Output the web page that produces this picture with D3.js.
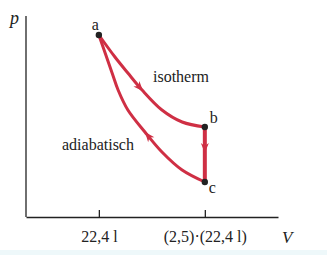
<!DOCTYPE html>
<html>
<head>
<meta charset="utf-8">
<script src="https://cdn.jsdelivr.net/npm/d3@7"></script>
<style>
  body { margin: 0; background: #fff; }
  svg text { font-family: "Liberation Serif", "DejaVu Serif", serif; fill: #222; }
</style>
</head>
<body>
<svg id="chart" width="327" height="255"></svg>
<script>
// volume ticks (litre) and their labels
const tickValues = [22.4, 56];
const tickLabels = ["22,4 l", "(2,5)·(22,4 l)"];

// states a, b, c  (V in l, p in arbitrary units)
const stateNames = ["a", "b", "c"];
const stateV = [22.4, 56, 56];
const stateP = [9.1, 4.5, 1.75];

// isotherm a -> b
const isoV = [22.4, 27.5, 31.6, 36.1, 42.4, 48.8, 56];
const isoP = [9.1, 8.0, 7.2, 6.35, 5.35, 4.75, 4.5];

// adiabat c -> a (listed from a to c)
const adiV = [22.4, 26.6, 28.5, 31.6, 37.0, 42.4, 48.8, 56];
const adiP = [9.1, 7.2, 6.35, 5.35, 4.25, 3.25, 2.35, 1.75];

const red = "#cf2f44";
const svg = d3.select("#chart");

const x = d3.scaleLinear().domain([-0.7, 79.2]).range([26, 278]);
const y = d3.scaleLinear().domain([0, 10]).range([217, 17]);

// light strip at the bottom
svg.append("rect").attr("x", 0).attr("y", 250).attr("width", 327).attr("height", 5).attr("fill", "#eef8fa");

// axes
const xAxis = d3.axisBottom(x)
    .tickValues(tickValues)
    .tickFormat((d, i) => tickLabels[i])
    .tickSizeInner(-7)
    .tickSizeOuter(0)
    .tickPadding(14);

const gx = svg.append("g").attr("transform", `translate(0,${y(0)})`).call(xAxis);
gx.select(".domain").attr("stroke", "#222").attr("stroke-width", 1.3);
gx.selectAll(".tick line").attr("stroke", "#222").attr("stroke-width", 1.3).attr("y2", -7).attr("y1", 1);
gx.selectAll(".tick text").attr("font-size", 16).attr("font-family", "Liberation Serif").attr("fill", "#222");

svg.append("line")
    .attr("x1", x.range()[0]).attr("x2", x.range()[0])
    .attr("y1", y(0)).attr("y2", 16)
    .attr("stroke", "#222").attr("stroke-width", 1.3);

svg.append("text").attr("x", 10).attr("y", 24).attr("font-size", 18).attr("font-style", "italic").text("p");
svg.append("text").attr("x", 282).attr("y", 243).attr("font-size", 17).attr("font-style", "italic").text("V");

// curves
const line = d3.line().x(d => x(d[0])).y(d => y(d[1])).curve(d3.curveCatmullRom.alpha(0.5));

const isoPath = svg.append("path")
    .datum(d3.zip(isoV, isoP))
    .attr("d", line)
    .attr("fill", "none").attr("stroke", red).attr("stroke-width", 3);

const adiPath = svg.append("path")
    .datum(d3.zip(adiV, adiP))
    .attr("d", line)
    .attr("fill", "none").attr("stroke", red).attr("stroke-width", 3);

const vertPath = svg.append("path")
    .attr("d", `M${x(stateV[1])},${y(stateP[1])}L${x(stateV[2])},${y(stateP[2])}`)
    .attr("stroke", red).attr("stroke-width", 4);

// arrow heads along a path, found at a given screen x (or y)
function arrowAt(pathSel, key, target, reverse) {
  const node = pathSel.node();
  const len = node.getTotalLength();
  let best = 0, bestD = Infinity;
  for (let l = 0; l <= len; l += 0.5) {
    const pt = node.getPointAtLength(l);
    const d = Math.abs(pt[key] - target);
    if (d < bestD) { bestD = d; best = l; }
  }
  const p0 = node.getPointAtLength(Math.max(0, best - 1));
  const p1 = node.getPointAtLength(Math.min(len, best + 1));
  let ang = Math.atan2(p1.y - p0.y, p1.x - p0.x) * 180 / Math.PI;
  if (reverse) ang += 180;
  const pt = node.getPointAtLength(best);
  svg.append("path")
      .attr("d", "M0,0L-10,-4L-7,0L-10,4Z")
      .attr("fill", red)
      .attr("transform", `translate(${pt.x},${pt.y}) rotate(${ang})`);
}
arrowAt(isoPath, "x", 143, false);
arrowAt(adiPath, "x", 145, true);
arrowAt(vertPath, "y", 153, false);

// state points
svg.selectAll("circle.state")
    .data(stateNames)
    .enter()
    .append("circle")
    .attr("class", "state")
    .attr("cx", (d, i) => x(stateV[i]))
    .attr("cy", (d, i) => y(stateP[i]))
    .attr("r", 3.2)
    .attr("fill", "#222");

const labelOffsets = [[-7, -5], [5, -4], [4, 11]];
svg.selectAll("text.state")
    .data(stateNames)
    .enter()
    .append("text")
    .attr("class", "state")
    .attr("x", (d, i) => x(stateV[i]) + labelOffsets[i][0])
    .attr("y", (d, i) => y(stateP[i]) + labelOffsets[i][1])
    .attr("font-size", 16)
    .text(d => d);

svg.append("text").attr("x", 153).attr("y", 82).attr("font-size", 16).text("isotherm");
svg.append("text").attr("x", 62).attr("y", 150).attr("font-size", 16).text("adiabatisch");
</script>
</body>
</html>
